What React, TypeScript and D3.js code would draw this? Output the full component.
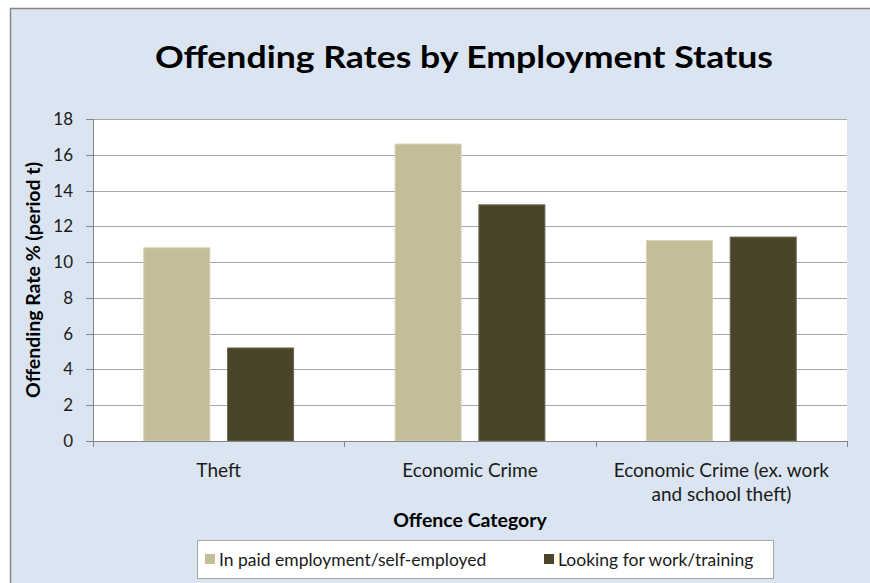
import React from "react";
import * as d3 from "d3";

const categories = ["Theft", "Economic Crime", "Economic Crime (ex. work and school theft)"];
const categoryLabelLines = [["Theft"], ["Economic Crime"], ["Economic Crime (ex. work", "and school theft)"]];
const seriesNames = ["In paid employment/self-employed", "Looking for work/training"];
const employedValues = [10.8, 16.6, 11.2];
const lookingValues = [5.2, 13.2, 11.4];
const yTicks = [0, 2, 4, 6, 8, 10, 12, 14, 16, 18];
const seriesColors = ["#C4BD97", "#4A452A"];
const seriesStrokes = ["#D6D1B6", "#6A6650"];

const W = 870;
const H = 583;
const plot = { left: 93, right: 847, top: 119, bottom: 441 };
const FONT = "Lato, 'Open Sans', sans-serif";

export default function App() {
  const x0 = d3.scaleBand<string>().domain(categories).range([plot.left, plot.right]).padding(0);
  const x1 = d3
    .scaleBand<string>()
    .domain(seriesNames)
    .range([0, x0.bandwidth()])
    .paddingInner(0.2)
    .paddingOuter(0.6);
  const y = d3.scaleLinear().domain([0, 18]).range([plot.bottom, plot.top]);
  const seriesValues = [employedValues, lookingValues];

  const boundaries = [...categories.map((c) => x0(c)!), plot.right];

  return (
    <svg
      width={W}
      height={H}
      style={{ position: "absolute", left: 0, top: 0, display: "block" }}
      fontFamily={FONT}
    >
      <rect x={0} y={0} width={W} height={H} fill="#FFFFFF" />
      <rect x={10.5} y={8.5} width={W + 10} height={H + 10} fill="#DBE5F1" stroke="#868686" strokeWidth={1.5} />

      <text
        x={464}
        y={68}
        textAnchor="middle"
        fontSize={30}
        fontWeight="bold"
        fill="#000"
        textLength={618}
        lengthAdjust="spacingAndGlyphs"
      >
        Offending Rates by Employment Status
      </text>

      <rect x={plot.left} y={plot.top} width={plot.right - plot.left} height={plot.bottom - plot.top} fill="#FFFFFF" />

      {yTicks.map((t) => (
        <g key={t}>
          {t > 0 && (
            <line x1={plot.left} x2={plot.right} y1={Math.round(y(t)) + 0.5} y2={Math.round(y(t)) + 0.5} stroke="#A6A6A6" strokeWidth={1} />
          )}
          <line x1={plot.left - 7} x2={plot.left} y1={Math.round(y(t)) + 0.5} y2={Math.round(y(t)) + 0.5} stroke="#868686" strokeWidth={1} />
          <text x={73} y={y(t) + 6} textAnchor="end" fontSize={17} fill="#1A1A1A">
            {t}
          </text>
        </g>
      ))}

      {categories.map((c, ci) => (
        <g key={c} transform={`translate(${x0(c)},0)`}>
          {seriesNames.map((s, si) => {
            const v = seriesValues[si][ci];
            return (
              <rect
                key={s}
                x={x1(s)! + 0.5}
                y={y(v)}
                width={x1.bandwidth() - 1}
                height={y(0) - y(v)}
                fill={seriesColors[si]}
                stroke={seriesStrokes[si]}
                strokeWidth={1}
              />
            );
          })}
        </g>
      ))}

      <line x1={plot.left + 0.5} x2={plot.left + 0.5} y1={plot.top} y2={plot.bottom} stroke="#868686" strokeWidth={1} />
      <line x1={plot.left} x2={plot.right} y1={plot.bottom + 0.5} y2={plot.bottom + 0.5} stroke="#868686" strokeWidth={1} />
      {boundaries.map((b, i) => (
        <line key={i} x1={Math.round(b) + 0.5} x2={Math.round(b) + 0.5} y1={plot.bottom} y2={plot.bottom + 6} stroke="#868686" strokeWidth={1} />
      ))}

      {categories.map((c, ci) => (
        <text key={c} x={x0(c)! + x0.bandwidth() / 2} y={477} textAnchor="middle" fontSize={19} fill="#1A1A1A">
          {categoryLabelLines[ci].map((line, li) => (
            <tspan key={li} x={x0(c)! + x0.bandwidth() / 2} dy={li === 0 ? 0 : 24}>
              {line}
            </tspan>
          ))}
        </text>
      ))}

      <text x={470} y={527} textAnchor="middle" fontSize={19.5} fontWeight="bold" fill="#000">
        Offence Category
      </text>

      <text
        transform={`translate(40, ${(plot.top + plot.bottom) / 2}) rotate(-90)`}
        textAnchor="middle"
        fontSize={19.5}
        fontWeight="bold"
        fill="#000"
      >
        Offending Rate % (period t)
      </text>

      <rect x={197.5} y={540.5} width={576} height={38} fill="#FFFFFF" stroke="#A6A6A6" strokeWidth={1} />
      {seriesNames.map((s, si) => {
        const lx = si === 0 ? 205 : 544;
        return (
          <g key={s}>
            <rect x={lx} y={554} width={10} height={10} fill={seriesColors[si]} />
            <text x={lx + 14} y={566} fontSize={17.5} fill="#1A1A1A">
              {s}
            </text>
          </g>
        );
      })}
    </svg>
  );
}
